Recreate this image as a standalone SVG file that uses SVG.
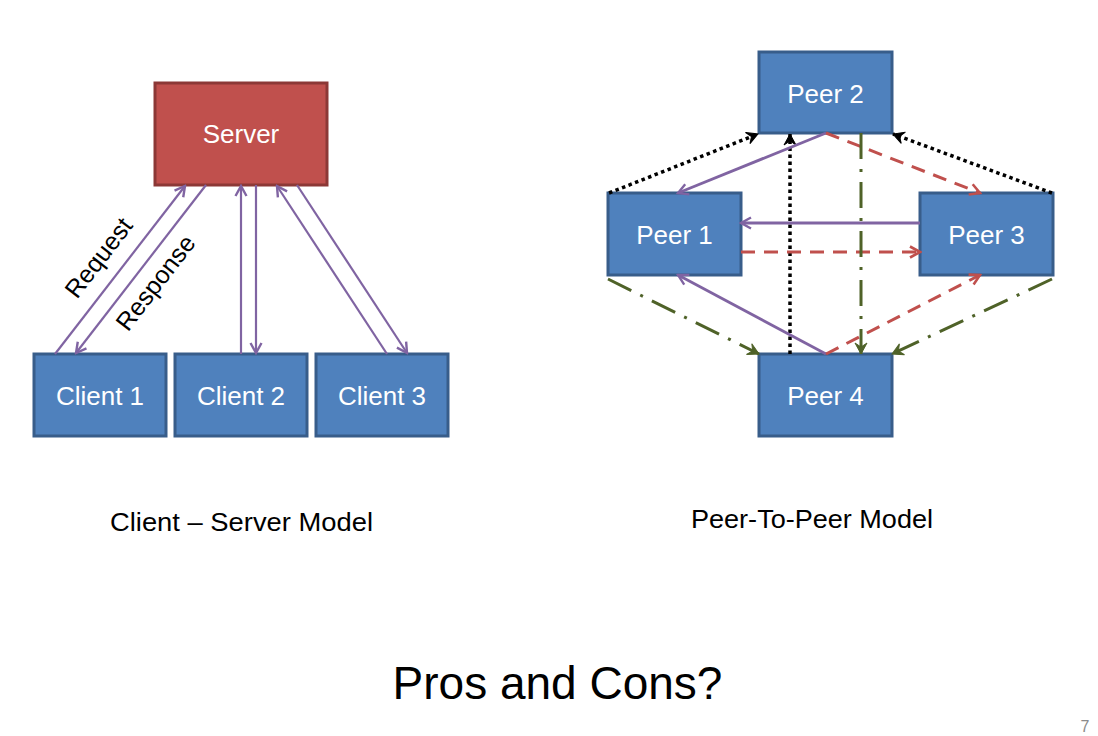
<svg xmlns="http://www.w3.org/2000/svg" width="1098" height="736" viewBox="0 0 1098 736">
  <style>
    .blue { fill: #4F81BD; stroke: #385D8A; stroke-width: 3; }
    .red { fill: #C0504D; stroke: #8C3836; stroke-width: 3; }
    .lbl { font-family: "Liberation Sans", Arial, sans-serif; font-size: 26px; fill: #FFFFFF; text-anchor: middle; }
    .cap { font-family: "Liberation Sans", Arial, sans-serif; font-size: 25px; fill: #000000; }
    .rot { font-family: "Liberation Sans", Arial, sans-serif; font-size: 25px; fill: #000000; text-anchor: middle; }
    .cs { fill: none; stroke: #8064A2; stroke-width: 2.2; marker-end: url(#mPurple); }
    .pp { fill: none; stroke: #8064A2; stroke-width: 2.8; marker-end: url(#mPurple); }
    .rd { fill: none; stroke: #C0504D; stroke-width: 3; stroke-dasharray: 14 9; marker-end: url(#mRed); }
    .gd { fill: none; stroke: #4F6228; stroke-width: 3; stroke-dasharray: 26 10 3 10; marker-end: url(#mGreen); }
    .bd { fill: none; stroke: #000000; stroke-width: 3.5; stroke-dasharray: 3.5 3.5; marker-end: url(#mBlack); }
  </style>
  <defs>
    <marker id="mPurple" markerUnits="userSpaceOnUse" markerWidth="14" markerHeight="14" viewBox="0 0 14 14" refX="12" refY="7" orient="auto">
      <path d="M2,1.5 L12,7 L2,12.5" fill="none" stroke="#8064A2" stroke-width="2.4"/>
    </marker>
    <marker id="mRed" markerUnits="userSpaceOnUse" markerWidth="14" markerHeight="14" viewBox="0 0 14 14" refX="12" refY="7" orient="auto">
      <path d="M2,1.5 L12,7 L2,12.5" fill="none" stroke="#C0504D" stroke-width="2.6"/>
    </marker>
    <marker id="mGreen" markerUnits="userSpaceOnUse" markerWidth="14" markerHeight="14" viewBox="0 0 14 14" refX="12" refY="7" orient="auto">
      <path d="M1,1 L12,7 L1,13 L5,7 Z" fill="#4F6228" stroke="#4F6228" stroke-width="1"/>
    </marker>
    <marker id="mBlack" markerUnits="userSpaceOnUse" markerWidth="14" markerHeight="14" viewBox="0 0 14 14" refX="12" refY="7" orient="auto">
      <path d="M1,1 L12,7 L1,13 L5,7 Z" fill="#000000" stroke="#000000" stroke-width="1"/>
    </marker>
  </defs>

  <rect x="0" y="0" width="1098" height="736" fill="#FFFFFF"/>

  <!-- Client-Server nodes -->
  <g id="server">
    <rect class="red" x="155" y="83" width="172" height="102"/>
    <text class="lbl" x="241" y="143">Server</text>
  </g>
  <g id="client1">
    <rect class="blue" x="34" y="354" width="132" height="82"/>
    <text class="lbl" x="100" y="405">Client 1</text>
  </g>
  <g id="client2">
    <rect class="blue" x="175" y="354" width="132" height="82"/>
    <text class="lbl" x="241" y="405">Client 2</text>
  </g>
  <g id="client3">
    <rect class="blue" x="316" y="354" width="132" height="82"/>
    <text class="lbl" x="382" y="405">Client 3</text>
  </g>

  <!-- Peer nodes -->
  <g id="peer2">
    <rect class="blue" x="759" y="52" width="133" height="81"/>
    <text class="lbl" x="825.5" y="103">Peer 2</text>
  </g>
  <g id="peer1">
    <rect class="blue" x="608" y="193" width="133" height="82"/>
    <text class="lbl" x="674.5" y="244">Peer 1</text>
  </g>
  <g id="peer3">
    <rect class="blue" x="920" y="193" width="133" height="82"/>
    <text class="lbl" x="986.5" y="244">Peer 3</text>
  </g>
  <g id="peer4">
    <rect class="blue" x="759" y="354" width="133" height="82"/>
    <text class="lbl" x="825.5" y="405">Peer 4</text>
  </g>

  <!-- Connectors -->
  <g id="connectors">
    <!-- client-server -->
    <line class="cs" x1="55" y1="354" x2="185" y2="186"/>
    <line class="cs" x1="206" y1="185" x2="76" y2="353"/>
    <line class="cs" x1="241" y1="354" x2="241" y2="186"/>
    <line class="cs" x1="256" y1="185" x2="256" y2="353"/>
    <line class="cs" x1="387" y1="354" x2="277" y2="186"/>
    <line class="cs" x1="297" y1="185" x2="407" y2="353"/>
    <!-- peer-to-peer -->
    <line class="bd" x1="609" y1="193" x2="758" y2="134"/>
    <line class="bd" x1="1052" y1="193" x2="893" y2="134"/>
    <line class="bd" x1="790" y1="354" x2="790" y2="134"/>
    <line class="pp" x1="826" y1="133" x2="678" y2="193"/>
    <line class="pp" x1="920" y1="223" x2="741" y2="223"/>
    <line class="pp" x1="826" y1="354" x2="678" y2="275"/>
    <line class="rd" x1="826" y1="133" x2="980" y2="193"/>
    <line class="rd" x1="741" y1="252" x2="920" y2="252"/>
    <line class="rd" x1="826" y1="354" x2="980" y2="275"/>
    <line class="gd" x1="861" y1="133" x2="861" y2="354"/>
    <line class="gd" x1="608" y1="279" x2="759" y2="354"/>
    <line class="gd" x1="1052" y1="279" x2="892" y2="354"/>
  </g>

  <!-- Connector labels -->
  <g id="labels">
    <text class="rot" transform="translate(99,258) rotate(-52.4)" x="0" y="8">Request</text>
    <text class="rot" transform="translate(156,283) rotate(-52.4)" x="0" y="8">Response</text>
  </g>

  <!-- Captions -->
  <text class="cap" x="110" y="531" textLength="263" lengthAdjust="spacingAndGlyphs">Client – Server Model</text>
  <text class="cap" x="691" y="528" textLength="242" lengthAdjust="spacingAndGlyphs">Peer-To-Peer Model</text>
  <text x="557.5" y="699" font-family="Liberation Sans, Arial, sans-serif" font-size="46" fill="#000000" text-anchor="middle">Pros and Cons?</text>
  <text x="1085" y="732" font-family="Liberation Sans, Arial, sans-serif" font-size="16" fill="#8B8B8B" text-anchor="middle">7</text>
</svg>
